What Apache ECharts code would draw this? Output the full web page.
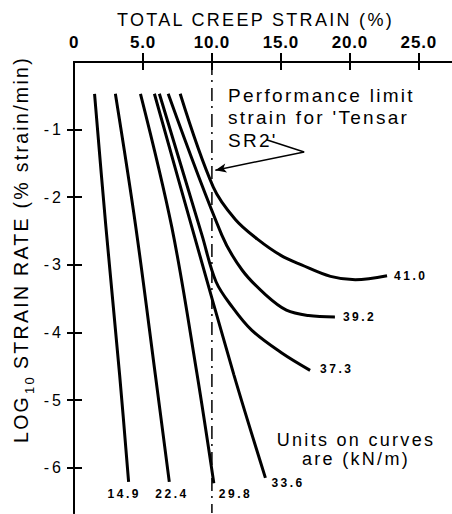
<!DOCTYPE html>
<html>
<head>
<meta charset="utf-8">
<title>Total creep strain</title>
<script src="https://cdn.jsdelivr.net/npm/echarts@6.0.0/dist/echarts.min.js"></script>
<style>
  html, body { margin: 0; padding: 0; background: #fff; }
  #chart { width: 452px; height: 514px; }
  /* the scanned figure uses wide letter spacing */
  #chart svg text { letter-spacing: 2.3px; }
  #chart svg text[style*="17px"] { letter-spacing: 0.8px; }
  #chart svg text[style*="16px"] { letter-spacing: 3px; }
  #chart svg text[style*="12px"] { letter-spacing: 2.5px; }
</style>
</head>
<body>
<div id="chart"></div>
<script>
// axis ticks
const xTicks = [0, 5, 10, 15, 20, 25];
const yTicks = [-6, -5, -4, -3, -2, -1];

// load on each curve (kN/m)
const loads = ['14.9', '22.4', '29.8', '33.6', '37.3', '39.2', '41.0'];

// [total creep strain %, log10 strain rate]
const curve149 = [[1.49, -0.47], [2.30, -2.41], [3.31, -4.63], [3.96, -6.21]];
const curve224 = [[3.00, -0.47], [4.46, -2.41], [5.90, -4.63], [6.91, -6.21]];
const curve298 = [[4.82, -0.47], [7.10, -2.45], [8.90, -4.59], [10.14, -6.23]];
const curve336 = [[5.83, -0.47], [8.71, -2.56], [11.6, -4.63], [13.88, -6.15]];
const curve373 = [[6.19, -0.47], [9.28, -2.56], [10.3, -3.25], [11.5, -3.63], [12.9, -3.97], [15.04, -4.30], [17.12, -4.56]];
const curve392 = [[6.83, -0.47], [10.72, -2.56], [12.2, -3.08], [13.88, -3.44], [15.4, -3.67], [17.0, -3.75], [18.92, -3.77]];
const curve410 = [[7.70, -0.47], [10.1, -1.85], [11.7, -2.33], [13.3, -2.62], [15.0, -2.86], [16.5, -3.0], [18.6, -3.17], [20.4, -3.22], [22.7, -3.16]];

// performance limit strain for 'Tensar SR2'
const limitStrain = 10;

const xMax = 27.41;
const yMin = -6.67;

const curves = [curve149, curve224, curve298, curve336, curve373, curve392, curve410];
const labelOffsets = [[-21, 12], [-14, 12], [5, 11], [6, 5], [10, -1], [8, 0], [7, 0]];

const fontFamily = '"Liberation Sans", Arial, Helvetica, sans-serif';

const chart = echarts.init(document.getElementById('chart'), null, { renderer: 'svg' });

const curveSeries = curves.map((data, i) => ({
  name: loads[i],
  type: 'line',
  data: data,
  smooth: 0.35,
  symbol: 'none',
  lineStyle: { color: '#000', width: 3 },
  endLabel: {
    show: true,
    formatter: loads[i],
    distance: 0,
    offset: labelOffsets[i],
    color: '#000',
    fontFamily: fontFamily,
    fontSize: 12,
    fontWeight: 'bold'
  }
}));

const limitSeries = {
  name: 'limit',
  type: 'line',
  data: [[limitStrain, 0], [limitStrain, yMin]],
  symbol: 'none',
  lineStyle: { color: '#000', width: 1.5, type: [13, 5, 2, 6] },
  markLine: {
    silent: true,
    symbolSize: [7, 11],
    label: { show: false },
    lineStyle: { color: '#000', width: 1.5, type: 'solid' },
    data: [
      [{ coord: [13.96, -1.15], symbol: 'none' }, { coord: [16.69, -1.33], symbol: 'none' }],
      [{ coord: [16.69, -1.33], symbol: 'none' }, { coord: [10.25, -1.6], symbol: 'arrow' }]
    ]
  }
};

// y axis title, rotated, with the subscript 10
function yTitle() {
  const font = (size) => size + 'px ' + fontFamily;
  return {
    type: 'group',
    x: 21,
    y: 443,
    rotation: Math.PI / 2,
    children: [
      { type: 'text', x: 0, y: 0, style: { text: 'LOG', fill: '#000', font: font(19.5), textVerticalAlign: 'middle' } },
      { type: 'text', x: 49, y: 8, style: { text: '10', fill: '#000', font: font(13), textVerticalAlign: 'middle' } },
      { type: 'text', x: 74, y: 0, style: { text: 'STRAIN RATE (% strain/min)', fill: '#000', font: font(19.5), textVerticalAlign: 'middle' } }
    ]
  };
}

const option = {
  animation: false,
  backgroundColor: '#fff',
  grid: { left: 74, top: 62, right: -3, bottom: 1 },
  xAxis: [
    {
      type: 'value',
      position: 'top',
      min: 0,
      max: xMax,
      name: 'TOTAL CREEP STRAIN (%)',
      nameLocation: 'middle',
      nameGap: 33,
      nameTextStyle: { color: '#000', fontFamily: fontFamily, fontSize: 18, padding: [0, 15, 0, 0] },
      axisLine: { lineStyle: { color: '#000', width: 2 } },
      axisTick: { inside: true, length: 8, customValues: xTicks, lineStyle: { color: '#000', width: 2 } },
      axisLabel: {
        customValues: xTicks,
        margin: 11,
        color: '#000',
        fontFamily: fontFamily,
        fontSize: 17,
        fontWeight: 'bold',
        formatter: (v) => (v === 0 ? '0' : v.toFixed(1))
      },
      splitLine: { show: false }
    },
    {
      type: 'value',
      position: 'bottom',
      min: 0,
      max: xMax,
      axisLine: { lineStyle: { color: '#000', width: 2 } },
      axisTick: { inside: true, length: 9, customValues: xTicks.slice(1), lineStyle: { color: '#000', width: 2 } },
      axisLabel: { show: false },
      splitLine: { show: false }
    }
  ],
  yAxis: [
    {
      type: 'value',
      position: 'left',
      min: yMin,
      max: 0,
      axisLine: { lineStyle: { color: '#000', width: 2 } },
      axisTick: { inside: true, length: 8, customValues: yTicks, lineStyle: { color: '#000', width: 2 } },
      axisLabel: {
        customValues: yTicks,
        margin: 10,
        color: '#000',
        fontFamily: fontFamily,
        fontSize: 16
      },
      splitLine: { show: false }
    },
    {
      type: 'value',
      position: 'right',
      min: yMin,
      max: 0,
      axisLine: { lineStyle: { color: '#000', width: 2 } },
      axisTick: { inside: true, length: 7, customValues: yTicks, lineStyle: { color: '#000', width: 2 } },
      axisLabel: { show: false },
      splitLine: { show: false }
    }
  ],
  graphic: [
    yTitle(),
    {
      type: 'text',
      x: 228,
      y: 84,
      style: {
        text: "Performance limit\nstrain for 'Tensar\nSR2'",
        fill: '#000',
        font: '19px ' + fontFamily,
        lineHeight: 22.5,
        textAlign: 'left',
        textVerticalAlign: 'top'
      }
    },
    {
      type: 'text',
      x: 356,
      y: 430,
      style: {
        text: 'Units on curves\nare (kN/m)',
        fill: '#000',
        font: '18px ' + fontFamily,
        lineHeight: 19,
        textAlign: 'center',
        textVerticalAlign: 'top'
      }
    }
  ],
  series: curveSeries.concat([limitSeries])
};

chart.setOption(option);
</script>
</body>
</html>
